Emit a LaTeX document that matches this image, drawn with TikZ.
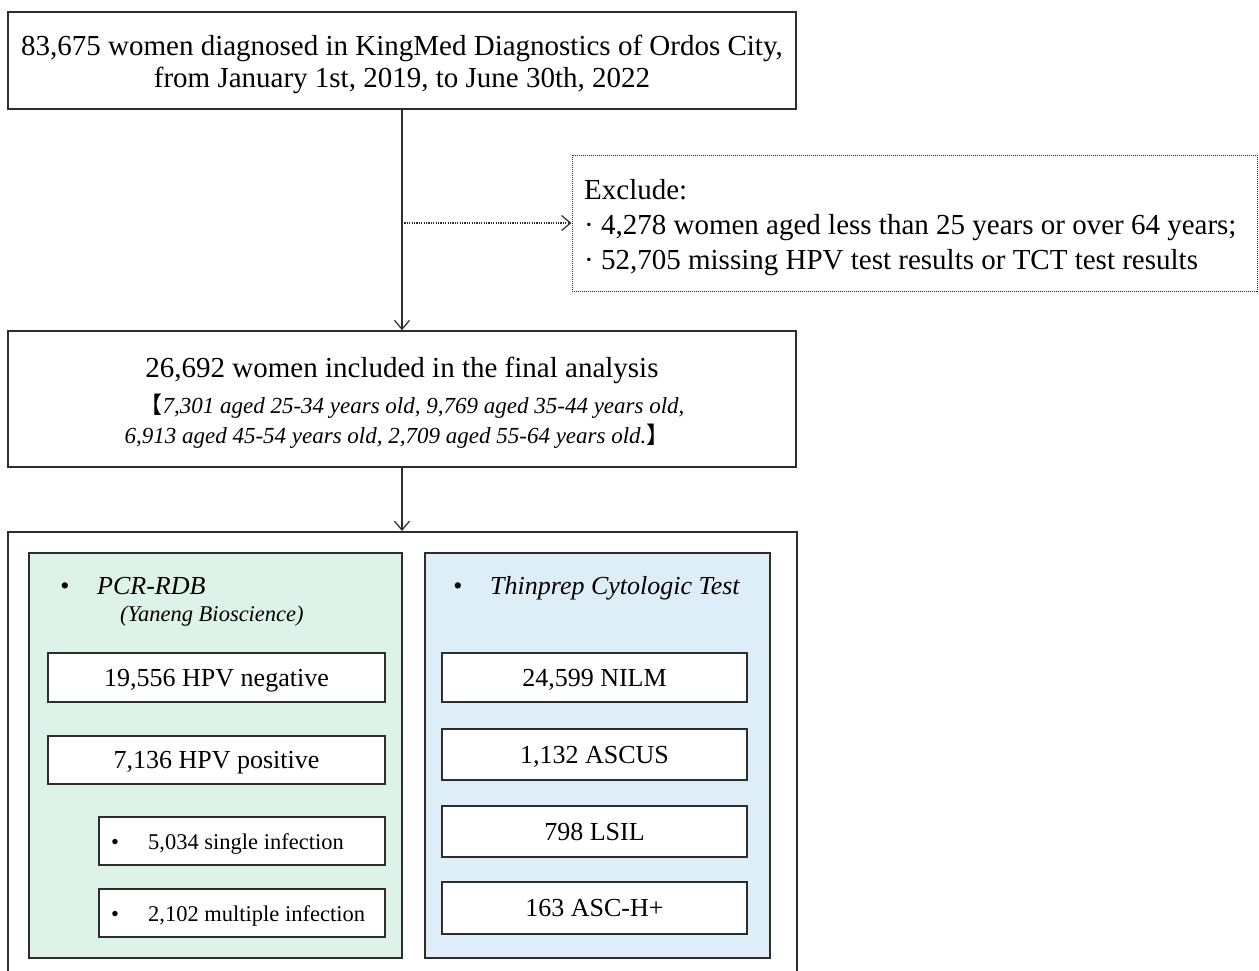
\documentclass[tikz,border=0pt]{standalone}
\usepackage{fontspec}
\setmainfont{Liberation Serif}
\newfontfamily\cjk{Noto Sans CJK SC}
\usetikzlibrary{arrows.meta}
\definecolor{linegray}{RGB}{45,45,45}
\definecolor{mint}{RGB}{221,242,233}
\definecolor{skyb}{RGB}{222,238,248}
\newcommand{\fbig}{\fontsize{29}{32}\selectfont}
\newcommand{\fexcl}{\fontsize{29}{35}\selectfont}
\newcommand{\fmid}{\fontsize{26}{30}\selectfont}
\newcommand{\fsmall}{\fontsize{22.5}{30}\selectfont}
\newcommand{\fital}{\fontsize{23}{30}\selectfont}
\begin{document}
\begin{tikzpicture}[x=1pt,y=-1pt,
  box/.style={draw=linegray, line width=1.6pt, fill=white, inner sep=0pt, align=center},
  dotbox/.style={draw=linegray, line width=1pt, dash pattern=on 1pt off 1pt, fill=white, inner sep=0pt},
  panelg/.style={draw=linegray, line width=1.6pt, fill=mint, inner sep=0pt},
  panelb/.style={draw=linegray, line width=1.6pt, fill=skyb, inner sep=0pt},
  subbox/.style={draw=linegray, line width=1.6pt, fill=white, inner sep=0pt, align=center, font=\fmid, text height=18pt, text depth=1pt},
  subboxs/.style={draw=linegray, line width=1.6pt, fill=white, inner sep=0pt},
  arr/.style={draw=linegray, line width=1.2pt, -{Straight Barb[length=9pt,width=15pt,line width=1.2pt]}},
  dotarr/.style={draw=linegray, line width=1.2pt, dash pattern=on 1.2pt off 1.2pt, -{Straight Barb[length=9pt,width=15pt,line width=1.2pt,sep=0pt]}},
  txt/.style={inner sep=0pt, anchor=base}
]
\useasboundingbox (0,0) rectangle (1259,970);
\clip (0,0) rectangle (1259,970);
\fill[white] (0,0) rectangle (1259,970);

% top box
\node[box, minimum width=788pt, minimum height=97pt] (top) at (402,60.5) {};
\node[inner sep=0pt, align=center, font=\fbig] (topt) at (402,64)
  {83,675 women diagnosed in KingMed Diagnostics of Ordos City,\\from January 1st, 2019, to June 30th, 2022};

% exclusion box
\node[dotbox, minimum width=685pt, minimum height=136pt] (excl) at (914.5,223) {};
\node[inner sep=0pt, anchor=west, align=left, font=\fexcl] (exclt) at (584,228)
  {Exclude:\\\textperiodcentered\ 4,278 women aged less than 25 years or over 64 years;\\\textperiodcentered\ 52,705 missing HPV test results or TCT test results};

% included box
\node[box, minimum width=788pt, minimum height=136pt] (incl) at (402,399) {};
\node[txt, font=\fbig] (incla) at (402,377) {26,692 women included in the final analysis};
\node[txt, font=\fital\itshape] (inclb) at (412,413) {{\cjk\upshape 【}7,301 aged 25-34 years old, 9,769 aged 35-44 years old,};
\node[txt, font=\fital\itshape] (inclc) at (397,443) {6,913 aged 45-54 years old, 2,709 aged 55-64 years old.{\cjk\upshape 】}};

% outer results box
\node[box, minimum width=789pt, minimum height=470pt, anchor=north] (res) at (402.5,531) {};

% green panel
\node[panelg, minimum width=373pt, minimum height=405pt] (pg) at (215.5,755.5) {};
\node[txt, font=\fmid] (bg) at (65,594) {\textbullet};
\node[txt, anchor=base west, font=\fmid\itshape] (pcr) at (97,594) {PCR-RDB};
\node[txt, anchor=base west, font=\fsmall\itshape] (yan) at (120,621) {(Yaneng Bioscience)};

\node[subbox, minimum width=337pt, minimum height=49pt] (neg) at (216.5,677.5) {19,556 HPV negative};
\node[subbox, minimum width=337pt, minimum height=48pt] (pos) at (216.5,760) {7,136 HPV positive};
\node[subboxs, minimum width=286pt, minimum height=48pt] (sing) at (242,841) {};
\node[txt, font=\fsmall] (bs) at (115,849) {\textbullet};
\node[txt, anchor=base west, font=\fsmall] (singt) at (148,849) {5,034 single infection};
\node[subboxs, minimum width=286pt, minimum height=48pt] (mult) at (242,913) {};
\node[txt, font=\fsmall] (bm) at (115,921) {\textbullet};
\node[txt, anchor=base west, font=\fsmall] (multt) at (148,921) {2,102 multiple infection};

% blue panel
\node[panelb, minimum width=345pt, minimum height=405pt] (pb) at (597.5,755.5) {};
\node[txt, font=\fmid] (bb) at (458,594) {\textbullet};
\node[txt, anchor=base west, font=\fmid\itshape] (tct) at (490,594) {Thinprep Cytologic Test};

\node[subbox, minimum width=305pt, minimum height=49pt] (nilm) at (594.5,677.5) {24,599 NILM};
\node[subbox, minimum width=305pt, minimum height=51pt] (ascus) at (594.5,754.5) {1,132 ASCUS};
\node[subbox, minimum width=305pt, minimum height=51pt] (lsil) at (594.5,831.5) {798 LSIL};
\node[subbox, minimum width=305pt, minimum height=52pt] (asch) at (594.5,908) {163 ASC-H+};

% connectors
\draw[arr] (top.south) -- (incl.north);
\draw[dotarr] (top.south |- excl.west) -- (excl.west);
\draw[arr] (incl.south) -- (res.north -| incl.south);
\end{tikzpicture}
\end{document}
